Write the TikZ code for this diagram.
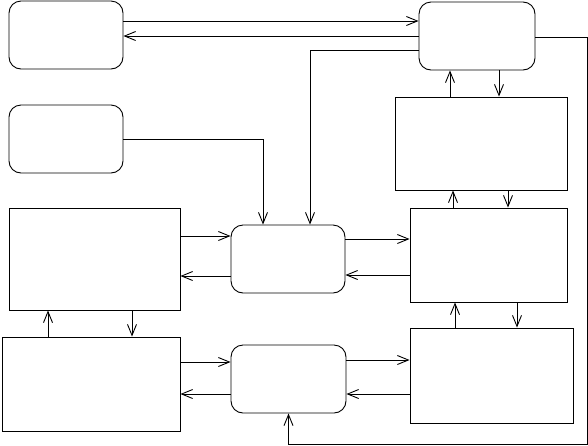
\documentclass[tikz,border=0pt]{standalone}
\usetikzlibrary{arrows.meta}
\begin{document}
\begin{tikzpicture}[x=1pt,y=-1pt,
  box/.style={draw,line width=0.9pt,inner sep=0pt,minimum width=#1},
  rbox/.style={box=#1,rounded corners=12pt},
  arr/.style={line width=0.9pt,-{Straight Barb[length=11pt,width=9pt,line width=0.9pt]}},
  ln/.style={line width=0.9pt}]
\fill[white] (0,0) rectangle (588,445);
\useasboundingbox (0,0) rectangle (588,445);
% nodes
\node[rbox=114pt,minimum height=68pt] (A) at (66,35) {};
\node[rbox=114pt,minimum height=68pt] (B) at (66,139) {};
\node[rbox=116pt,minimum height=68pt] (C) at (477,36) {};
\node[box=172pt,minimum height=93pt] (D) at (481,143.5) {};
\node[box=157pt,minimum height=94pt] (E) at (488.5,255) {};
\node[box=163pt,minimum height=95pt] (F) at (491.5,375.5) {};
\node[rbox=114pt,minimum height=68pt] (M1) at (288,259) {};
\node[rbox=115pt,minimum height=68pt] (M2) at (288.5,379) {};
\node[box=171pt,minimum height=102pt] (G) at (94.5,259) {};
\node[box=178pt,minimum height=94pt] (H) at (91,384) {};
\coordinate (loop) at (587,444);
% connectors
\draw[arr] (A.east|-0,21) -- (C.west|-0,21);
\draw[arr] (C.west|-0,36) -- (A.east|-0,36);
\draw[arr] (C.west|-0,50) -| ([xshift=22pt]M1.north);
\draw[arr] (C.east|-0,37) -| (loop) -| (M2.south);
\draw[arr] (B.east) -| ([xshift=-25pt]M1.north);
\draw[arr] (D.north-|450,0) -- (C.south-|450,0);
\draw[arr] (C.south-|499,0) -- (D.north-|499,0);
\draw[arr] (E.north-|453,0) -- (D.south-|453,0);
\draw[arr] (D.south-|508,0) -- (E.north-|508,0);
\draw[arr] (F.north-|455,0) -- (E.south-|455,0);
\draw[arr] (E.south-|517,0) -- (F.north-|517,0);
\draw[arr] (G.east|-0,236) -- (M1.west|-0,236);
\draw[arr] (M1.west|-0,276) -- (G.east|-0,276);
\draw[arr] (M1.east|-0,239) -- (E.west|-0,239);
\draw[arr] (E.west|-0,275) -- (M1.east|-0,275);
\draw[arr] (H.north-|48,0) -- (G.south-|48,0);
\draw[arr] (G.south-|132,0) -- (H.north-|132,0);
\draw[arr] (H.east|-0,362) -- (M2.west|-0,362);
\draw[arr] (M2.west|-0,394) -- (H.east|-0,394);
\draw[arr] (M2.east|-0,360) -- (F.west|-0,360);
\draw[arr] (F.west|-0,394) -- (M2.east|-0,394);
\end{tikzpicture}
\end{document}
